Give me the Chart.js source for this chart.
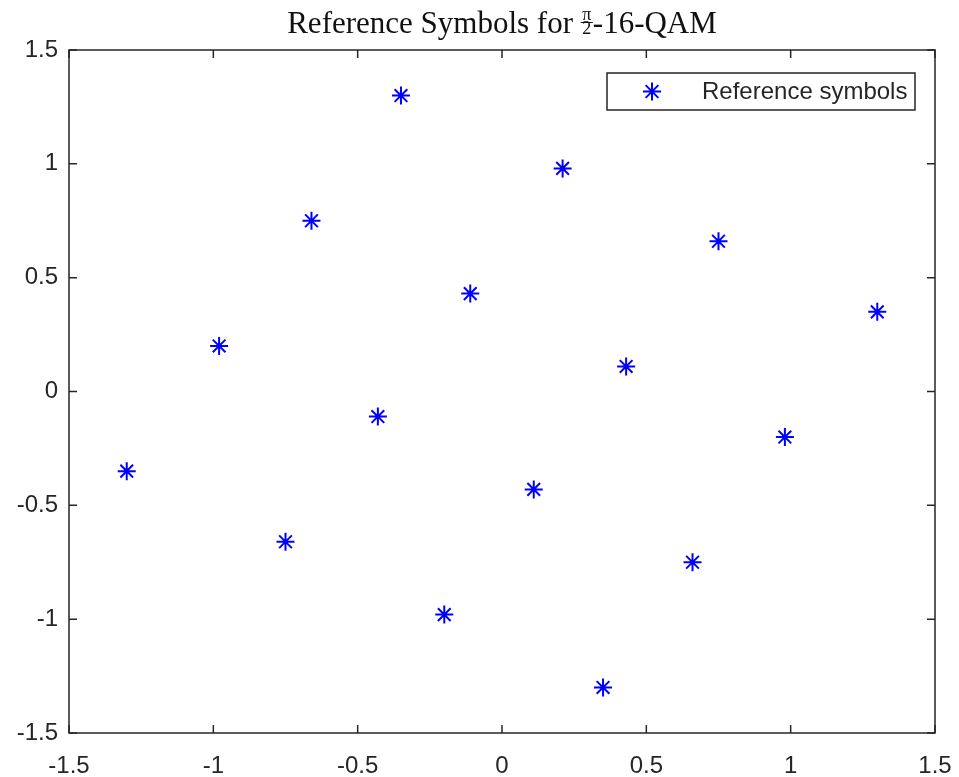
<!DOCTYPE html>
<html>
<head>
<meta charset="utf-8">
<script src="https://cdn.jsdelivr.net/npm/chart.js@4.4.0/dist/chart.umd.min.js"></script>
<style>
  html, body { margin: 0; padding: 0; background: #fff; }
  #wrap { width: 959px; height: 777px; }
</style>
</head>
<body>
<div id="wrap"><canvas id="qam"></canvas></div>
<script>
// in-phase / quadrature of the 16 reference symbols
const symI = [-0.35, 0.21, -0.66, 0.75, -0.11, 1.30, -0.98, 0.43, -0.43, 0.98, -1.30, 0.11, -0.75, 0.66, -0.20, 0.35];
const symQ = [1.30, 0.98, 0.75, 0.66, 0.43, 0.35, 0.20, 0.11, -0.11, -0.20, -0.35, -0.43, -0.66, -0.75, -0.98, -1.30];
const axisTicks = [-1.5, -1, -0.5, 0, 0.5, 1, 1.5];
const seriesLabel = "Reference symbols";

const axisColor = "#262626";
const sansFont = "'Liberation Sans', Arial, sans-serif";
const serifFont = "'Liberation Serif', 'Times New Roman', serif";

// box, inward ticks on all four sides
const framePlugin = {
  id: "frame",
  beforeDatasetsDraw(chart) {
    const { ctx, chartArea: a, scales } = chart;
    ctx.save();
    ctx.strokeStyle = axisColor;
    ctx.lineWidth = 1.5;
    ctx.strokeRect(a.left, a.top, a.right - a.left, a.bottom - a.top);
    ctx.beginPath();
    scales.x.ticks.forEach(t => {
      const px = scales.x.getPixelForValue(t.value);
      ctx.moveTo(px, a.bottom); ctx.lineTo(px, a.bottom - 8);
      ctx.moveTo(px, a.top); ctx.lineTo(px, a.top + 8);
    });
    scales.y.ticks.forEach(t => {
      const py = scales.y.getPixelForValue(t.value);
      ctx.moveTo(a.left, py); ctx.lineTo(a.left + 8, py);
      ctx.moveTo(a.right, py); ctx.lineTo(a.right - 8, py);
    });
    ctx.stroke();
    ctx.restore();
  },
  afterDraw(chart) {
    const { ctx, chartArea: a } = chart;
    ctx.save();
    // title with stacked pi/2 fraction
    const pre = "Reference Symbols for ";
    const post = "-16-QAM";
    const big = "31px " + serifFont, small = "18px " + serifFont;
    ctx.font = big;
    const wPre = ctx.measureText(pre).width;
    const wPost = ctx.measureText(post).width;
    ctx.font = small;
    const wFrac = Math.max(ctx.measureText("π").width, ctx.measureText("2").width) + 3;
    const total = wPre + wFrac + wPost;
    let x = (a.left + a.right) / 2 - total / 2;
    const base = 33;
    ctx.fillStyle = "#111";
    ctx.textBaseline = "alphabetic";
    ctx.textAlign = "left";
    ctx.font = big;
    ctx.fillText(pre, x, base);
    x += wPre;
    ctx.font = small;
    ctx.textAlign = "center";
    ctx.fillText("π", x + wFrac / 2, base - 13);
    ctx.fillText("2", x + wFrac / 2, base + 1);
    ctx.fillRect(x, base - 11, wFrac, 1);
    x += wFrac;
    ctx.textAlign = "left";
    ctx.font = big;
    ctx.fillText(post, x, base);

    // legend box
    const bw = 308, bh = 37;
    const bx = a.right - 20 - bw, by = a.top + 23;
    ctx.fillStyle = "#fff";
    ctx.fillRect(bx, by, bw, bh);
    ctx.strokeStyle = axisColor;
    ctx.lineWidth = 1.5;
    ctx.strokeRect(bx, by, bw, bh);
    const ds = chart.data.datasets[0];
    ctx.strokeStyle = ds.borderColor;
    ctx.fillStyle = ds.borderColor;
    ctx.lineWidth = ds.borderWidth;
    Chart.helpers.drawPoint(ctx, { pointStyle: "star", radius: ds.pointRadius, rotation: 0, borderWidth: ds.borderWidth }, bx + 45, by + bh / 2);
    ctx.fillStyle = axisColor;
    ctx.font = "24px " + sansFont;
    ctx.textBaseline = "middle";
    ctx.fillText(ds.label, bx + 95, by + bh / 2 + 1);
    ctx.restore();
  }
};

const points = symI.map((v, i) => ({ x: v, y: symQ[i] }));

function axis(pad, extra) {
  return Object.assign({
    type: "linear",
    min: -1.5,
    max: 1.5,
    afterBuildTicks: s => { s.ticks = axisTicks.map(v => ({ value: v })); },
    grid: { display: false, drawTicks: false },
    border: { display: false },
    ticks: {
      color: axisColor,
      padding: pad,
      font: { family: sansFont, size: 24 },
      callback: v => String(v)
    }
  }, extra);
}

new Chart("qam", {
  type: "scatter",
  data: {
    datasets: [{
      label: seriesLabel,
      data: points,
      pointStyle: "star",
      pointRadius: 9,
      pointHoverRadius: 9,
      borderWidth: 2,
      borderColor: "#0000ff",
      backgroundColor: "#0000ff"
    }]
  },
  options: {
    responsive: true,
    maintainAspectRatio: false,
    animation: false,
    layout: { padding: { top: 50, right: 24, left: 0, bottom: 0 } },
    plugins: { legend: { display: false }, tooltip: { enabled: false } },
    scales: {
      x: axis(19, { afterFit: s => { s.height = 44; s.paddingLeft = 0; s.paddingRight = 0; } }),
      y: axis(11, { afterFit: s => { s.width = 69; s.paddingTop = 0; s.paddingBottom = 0; } })
    }
  },
  plugins: [framePlugin]
});
</script>
</body>
</html>
